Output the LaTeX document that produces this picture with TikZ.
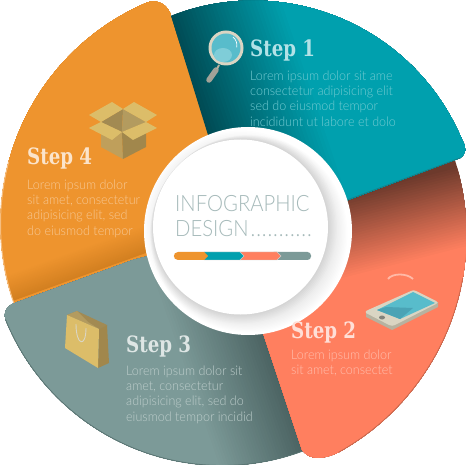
\documentclass[tikz,border=0pt]{standalone}
\usepackage{fontspec}
\setmainfont{Liberation Sans}
\newfontfamily\headf[FakeStretch=0.9]{DejaVu Serif Condensed}
\newfontfamily\bodyf[FakeStretch=0.95]{Lato Light}
\newfontfamily\titlef[FakeStretch=0.9]{Lato Light}
\newfontfamily\dotsf[FakeStretch=0.9,LetterSpace=4]{Lato Light}
\definecolor{tealA}{HTML}{004A53}
\definecolor{tealB}{HTML}{00A0AE}
\definecolor{tealRim}{HTML}{1B7F88}
\definecolor{coralA}{HTML}{6D3A2C}
\definecolor{coralB}{HTML}{FF7F5F}
\definecolor{coralRim}{HTML}{C9684E}
\definecolor{greyB}{HTML}{7C9A98}
\definecolor{greyA}{HTML}{4C6463}
\definecolor{greyRim}{HTML}{5B7674}
\definecolor{orangeB}{HTML}{EE942E}
\definecolor{orangeA}{HTML}{D27F20}
\definecolor{orangeRim}{HTML}{F6BE80}
\definecolor{boxFlap}{HTML}{DCBD69}
\definecolor{boxIn}{HTML}{A28A52}
\definecolor{boxInB}{HTML}{B39B5F}
\definecolor{boxL}{HTML}{BF9F5B}
\definecolor{boxR}{HTML}{A1874C}
\definecolor{lensC}{HTML}{58BCCB}
\definecolor{lensD}{HTML}{4AA3B5}
\definecolor{lensH}{HTML}{7FCDD8}
\definecolor{creamC}{HTML}{DAD5C3}
\definecolor{creamD}{HTML}{B7B2A0}
\definecolor{handleC}{HTML}{A2A298}
\definecolor{titleC}{HTML}{A6BABA}
\newcommand\gstrips[6]{%
  \pgfmathsetmacro\gL{veclen(#3,#4)}%
  \pgfmathsetmacro\gNx{#3/\gL}\pgfmathsetmacro\gNy{#4/\gL}%
  \foreach \i in {1,...,32}{%
    \pgfmathsetmacro\gP{100*\i/32}%
    \pgfmathsetmacro\gSx{#1+\i/32*#3}\pgfmathsetmacro\gSy{#2+\i/32*#4}%
    \fill[color=#6!\gP!#5]
      ({\gSx-700*\gNy},{\gSy+700*\gNx}) -- ({\gSx+700*\gNy},{\gSy-700*\gNx}) --
      ({\gSx+700*\gNy+700*\gNx},{\gSy-700*\gNx+700*\gNy}) --
      ({\gSx-700*\gNy+700*\gNx},{\gSy+700*\gNx+700*\gNy}) -- cycle;
  }}
\tikzset{
  head/.style={anchor=base west,inner sep=0pt,font=\headf\bfseries\fontsize{22.5}{22.5}\selectfont},
  body/.style={anchor=north west,inner sep=0pt,align=left,font=\bodyf\fontsize{13.2}{15.3}\selectfont},
  titletext/.style={anchor=base west,inner sep=0pt,text=titleC,font=\titlef\fontsize{22.5}{24}\selectfont},
  barend/.style={draw=white!80!black,line width=.4pt},
  arcplot/.style={samples=90}
}
\def\orangearc{plot[arcplot,domain=246.8:160] ({241+240.5*cos(\x)},{224+240.5*sin(\x)})}
\def\tealarc{plot[arcplot,domain=-111.2:-22.5] ({253+226.5*cos(\x)},{227+226.5*sin(\x)})}
\def\coralarc{plot[arcplot,domain=-20:61] ({218+248.5*cos(\x)},{235+248.5*sin(\x)})}
\def\greyarc{plot[arcplot,domain=158:68] ({222+233.5*cos(\x)},{232+233.5*sin(\x)})}
\def\orangepath{\orangearc -- (248,231) -- (208,135) -- (170,13) .. controls (166,3) and (155,-1) .. (146.3,3) -- cycle}
\def\tealpath{\tealarc .. controls (467,148) and (466,154) .. (460,158) -- (300,218) -- (248,231) -- (208,135) -- cycle}
\def\coralpath{\coralarc .. controls (325,459) and (310,461) .. (302,450) -- (263,333) -- (248,231) -- (347,200) -- cycle}
\def\greypath{\greyarc -- (263,333) -- (248,231) -- (133,260) -- (15,303) .. controls (6,306) and (3,314) .. (5.5,319.5) -- cycle}
\begin{document}
\begin{tikzpicture}[x=1pt,y=-1pt]
\useasboundingbox (0,0) rectangle (466,465);
% orange
\begin{scope}
  \clip \orangepath;
  \fill[orangeB] (0,-5) rectangle (466,465);
  \gstrips{65}{283}{-9}{-25}{orangeA}{orangeB}
\end{scope}
\draw[orangeRim,line width=1pt] plot[arcplot,domain=195:160] ({241+240.5*cos(\x)},{224+240.5*sin(\x)});
% grey
\begin{scope}
  \clip \greypath;
  \fill[greyA] (0,0) rectangle (466,470);
  \gstrips{283}{390}{-80}{28}{greyA}{greyB}
\end{scope}
\draw[greyRim,line width=.8pt] \greyarc;
% coral
\begin{scope}
  \clip \coralpath;
  \fill[coralA] (0,0) rectangle (470,470);
  \gstrips{400}{180}{20}{78}{coralA}{coralB}
\end{scope}
\draw[coralRim,line width=.8pt] plot[arcplot,domain=10:61] ({218+248.5*cos(\x)},{235+248.5*sin(\x)});
% teal
\begin{scope}
  \clip \tealpath;
  \fill[tealA] (0,0) rectangle (470,465);
  \gstrips{185}{70}{107}{-36}{tealA}{tealB}
\end{scope}
\draw[tealRim,line width=.8pt] (460,158) -- (347,200);
% centre disc
\fill[white] (248,231) circle[radius=104];
\begin{scope}
  \clip (248,231) circle[radius=104];
  \foreach \k in {1,...,6}{\fill[black,opacity=.008] (240.5,227) circle[radius={87.5+1.5*\k}];}
  \foreach \k in {1,...,15}{\fill[black,opacity=.009] ({240.5+.55*\k},{227+.45*\k}) circle[radius={87.5+.75*\k}];}
\end{scope}
\fill[white] (240.5,227) circle[radius=87.5];
% title
\node[titletext] (title1) at (175,212) {INFOGRAPHIC};
\node[titletext] (title2) at (175,237) {DESIGN\hspace{2pt}{\dotsf...........}};
% bar
\fill[greyB,rounded corners=3.5pt] (270,252) rectangle (311,260);
\fill[coralB,barend] (240,252) -- (277,252) -- (281,256) -- (277,260) -- (240,260) -- cycle;
\fill[tealB,barend] (204,252) -- (240,252) -- (244,256) -- (240,260) -- (204,260) -- cycle;
\fill[orangeB] (178,252) -- (204,252) -- (208,256) -- (204,260) -- (178,260) .. controls (172.5,260) and (172.5,252) .. (178,252) -- cycle;
% magnifier
\draw[handleC,line width=5.5pt,line cap=round] (216,70) -- (209,80);
\draw[creamD,line width=2pt] (219,65) -- (217,69);
\fill[creamC] (226,48) circle[radius=17.5];
\fill[lensC] (226,48) circle[radius=14.5];
\fill[lensH] (223,55) ellipse[x radius=9,y radius=7];
\draw[white,line width=.7pt] (233,37) arc[start angle=-50,end angle=10,radius=11];
% box
\fill[boxL] (101,122) -- (122,132) -- (123,159) -- (101,147) -- cycle;
\fill[boxR] (146,122) -- (122,132) -- (123,159) -- (146,147) -- cycle;
\fill[boxIn] (101,122) -- (123,109) -- (122,132) -- cycle;
\fill[boxInB] (146,122) -- (123,109) -- (122,132) -- cycle;
\fill[boxFlap] (89,115) -- (112,102) -- (123,109) -- (101,122) -- cycle;
\fill[boxFlap] (123,109) -- (134,102) -- (157,115) -- (146,122) -- cycle;
\fill[boxFlap] (89,128) -- (101,122) -- (122,132) -- (112,140) -- cycle;
\fill[boxFlap] (122,132) -- (146,122) -- (157,128) -- (133,140) -- cycle;
% bag
\fill[boxIn] (67,315) -- (77,311) -- (107,325) -- (99,329) -- cycle;
\fill[boxInB] (77,311) -- (88,322) -- (99,329) -- (67,315) -- cycle;
\fill[boxR] (99,329) -- (107,325) -- (109,363) -- (98,368) -- cycle;
\fill[boxFlap] (67,315) -- (99,329) -- (98,368) -- (65,348) -- cycle;
\draw[creamC,line width=.9pt] (76,324) .. controls (76,346) and (86,348) .. (86,328);
% phone
\fill[creamD] (366,313) -- (366,317) -- (392,330) -- (438,307) -- (438,302) -- cycle;
\fill[creamC] (366,313) .. controls (365,311) and (366,311) .. (368,310) -- (411,291) .. controls (413,290) and (414,290) .. (416,291) -- (436,301) .. controls (438,302) and (438,303) .. (436,304) -- (395,325) .. controls (393,326) and (391,326) .. (389,325) -- cycle;
\fill[lensC] (377,310) -- (413,292) -- (435,303) -- (400,319) -- cycle;
\fill[lensD] (377,310) -- (386,307) -- (413,308) -- (400,319) -- cycle;
\fill[handleC!80!black] (382,317.5) ellipse[x radius=3,y radius=2];
\draw[coralB!55!white,line width=1.8pt] (388,279) .. controls (392,273) and (407,273) .. (413,279);
% texts
\node[head,text=tealB!30!white] (s1) at (250,57) {Step 1};
\node[body,text=tealB!55!white] (t1) at (250,70.5) {Lorem ipsum dolor sit ame\\consectetur adipisicing elit\\sed do eiusmod tempor\\incididunt ut labore et dolo};
\node[head,text=orangeB!25!white] (s2) at (27,165) {Step 4};
\node[body,text=orangeB!50!white] (t2) at (27,179.5) {Lorem ipsum dolor\\sit amet, consectetur\\adipisicing elit, sed\\do eiusmod tempor};
\node[head,text=greyB!25!white] (s3) at (126,352) {Step 3};
\node[body,text=greyB!50!white] (t3) at (126,365.5) {Lorem ipsum dolor sit\\amet, consectetur\\adipisicing elit, sed do\\eiusmod tempor incidid};
\node[head,text=coralB!25!white] (s4) at (291,338) {Step 2};
\node[body,text=coralB!50!white] (t4) at (291,349.5) {Lorem ipsum dolor\\sit amet, consectet};
\end{tikzpicture}
\end{document}
